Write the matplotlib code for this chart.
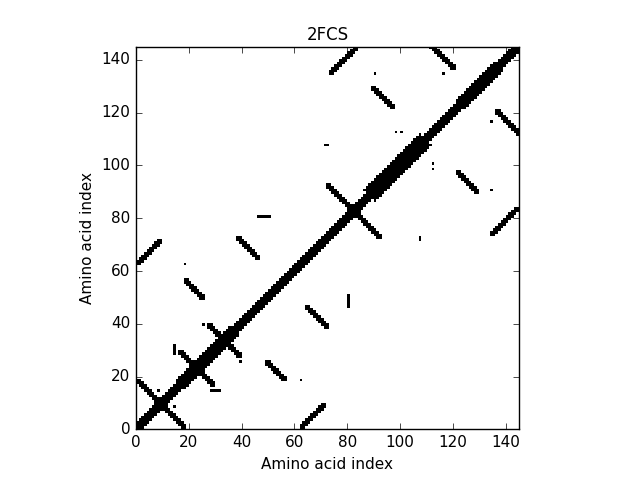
import numpy as np
import matplotlib
matplotlib.use("Agg")
import matplotlib.pyplot as plt

plt.style.use("classic")
N = 145
title = "2FCS"
ticks = [0, 20, 40, 60, 80, 100, 120, 140]

# diagonal band: ranges and half-widths
band_start = [0, 18, 36, 60, 76, 90, 108, 124, 136]
band_end   = [18, 36, 60, 76, 90, 108, 124, 136, 145]
band_half  = [2, 3, 2, 2, 2, 4, 2, 3, 2]

# off-diagonal contact segments: (start i, start j, length, direction)
seg_i   = [0, 0, 18, 38, 46, 73, 89, 73, 111, 28, 71, 33, 22]
seg_j   = [17, 62, 55, 71, 80, 90, 128, 134, 144, 14, 107, 32, 22]
seg_len = [17, 8, 6, 7, 4, 18, 7, 9, 8, 3, 1, 5, 6]
seg_dir = [-1, 1, -1, -1, 0, -1, -1, 1, -1, 0, 0, -1, -1]
seg_w   = [2, 2, 2, 2, 1, 2, 2, 2, 2, 1, 1, 2, 2]

# isolated contact dots (i, j)
dot_i = [134, 112, 90, 14, 25, 62, 100, 107]
dot_j = [116, 98, 134, 8, 39, 18, 112, 106]

M = np.zeros((N, N))
for s, e, h in zip(band_start, band_end, band_half):
    for i in range(s, e):
        M[max(0, i - h):min(N, i + h + 1), i] = 1
for i0, j0, L, d, w in zip(seg_i, seg_j, seg_len, seg_dir, seg_w):
    for k in range(L + 1):
        i = i0 + k
        j = j0 + d * k if d != 0 else j0
        M[max(0, j):min(N, j + w), max(0, i):min(N, i + w)] = 1
for i, j in zip(dot_i, dot_j):
    M[j, i] = 1
M = np.maximum(M, M.T)

fig = plt.figure(figsize=(6.4, 4.8), dpi=100)
ax = fig.add_axes([0.2125, 0.104, 0.598, 0.8])
ax.imshow(M, cmap="gray_r", origin="lower", interpolation="nearest",
          extent=[0, N, 0, N], aspect="equal")
ax.set_xlim(0, N)
ax.set_ylim(0, N)
ax.set_xticks(ticks)
ax.set_yticks(ticks)
ax.tick_params(labelsize=11)
ax.set_title(title, fontsize=12)
ax.set_xlabel("Amino acid index", fontsize=11)
ax.set_ylabel("Amino acid index", fontsize=11)
fig.savefig("out.png", dpi=100)
